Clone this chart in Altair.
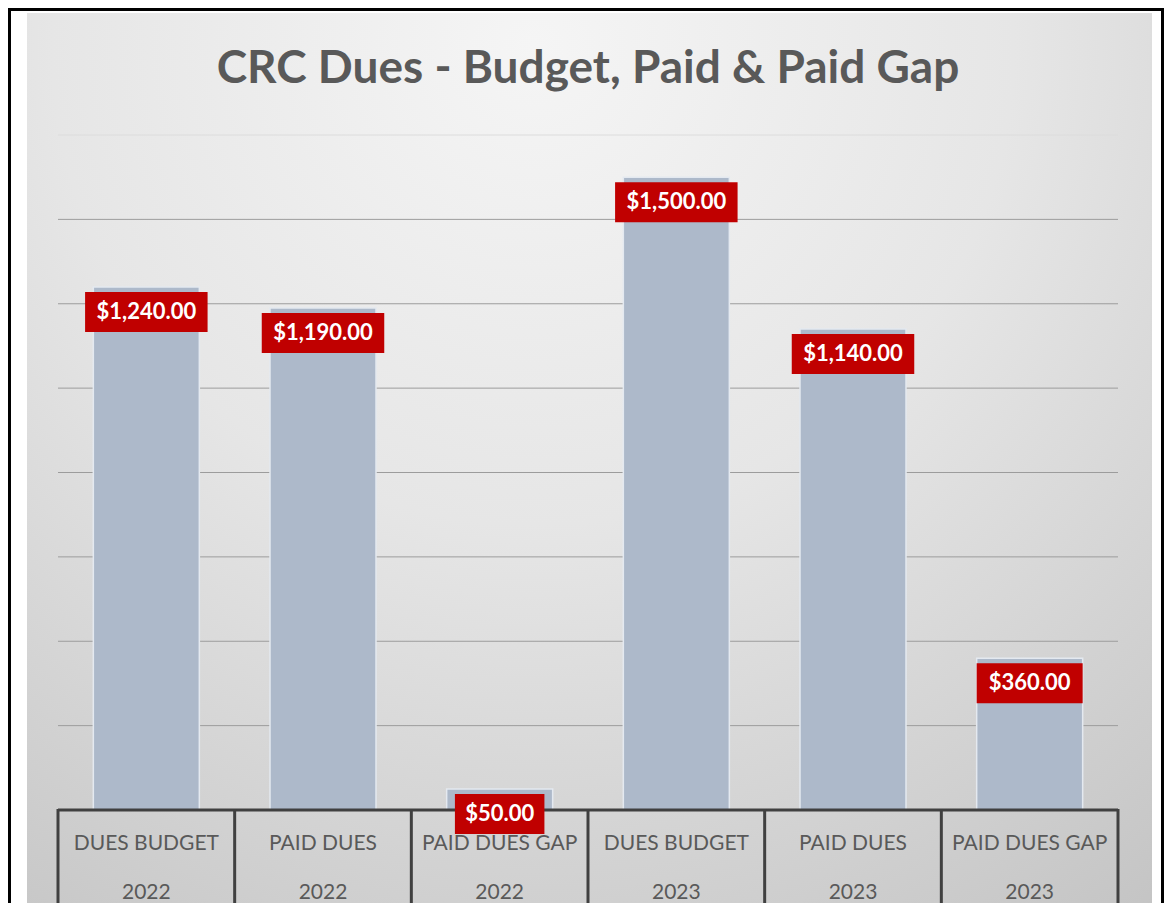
import altair as alt
import pandas as pd

# ---- data ----
categories = ["DUES BUDGET", "PAID DUES", "PAID DUES GAP", "DUES BUDGET", "PAID DUES", "PAID DUES GAP"]
years = ["2022", "2022", "2022", "2023", "2023", "2023"]
values = [1240, 1190, 50, 1500, 1140, 360]
grid_values = [200, 400, 600, 800, 1000, 1200, 1400, 1600]
title_text = "CRC Dues - Budget, Paid & Paid Gap"

df = pd.DataFrame({"category": categories, "year": years, "value": values})
df["key"] = [f"{c}|{y}" for c, y in zip(categories, years)]
order = list(df["key"])

W, H = 1060, 675
FONT = "Lato"

xscale = alt.Scale(domain=order, paddingInner=0, paddingOuter=0)
yscale = alt.Scale(domain=[0, 1600])

base = alt.Chart(df)
X = alt.X("key:N", scale=xscale, axis=None, sort=order)
Y = alt.Y("value:Q", scale=yscale, axis=None)

one = pd.DataFrame({"t": [title_text]})

# background panel with gradient
bg = alt.Chart(one).mark_rect(
    fill={
        "gradient": "radial",
        "x1": 0.45, "y1": 0.12, "r1": 0.0,
        "x2": 0.45, "y2": 0.12, "r2": 0.95,
        "stops": [
            {"offset": 0.0, "color": "#f5f5f5"},
            {"offset": 0.45, "color": "#e6e6e6"},
            {"offset": 1.0, "color": "#c4c4c4"},
        ],
    }
).encode(x=alt.value(-31), x2=alt.value(1094), y=alt.value(-122), y2=alt.value(H + 120))

border = alt.Chart(one).mark_rect(
    fillOpacity=0, stroke="#000000", strokeWidth=3
).encode(x=alt.value(-48.5), x2=alt.value(1104.5), y=alt.value(-125.5), y2=alt.value(H + 130))

title = alt.Chart(one).mark_text(
    font=FONT, fontSize=46, fontWeight="bold", color="#595959",
    align="center", baseline="alphabetic",
).encode(x=alt.value(W / 2), y=alt.value(-52), text="t:N")

grid = alt.Chart(pd.DataFrame({"g": grid_values})).mark_rule(
    strokeWidth=1
).encode(
    y=alt.Y("g:Q", scale=yscale, axis=None),
    color=alt.condition(alt.datum.g == 1600, alt.value("#dcdcdc"), alt.value("#9c9c9c")),
)

bars = base.mark_bar(
    width=alt.RelativeBandSize(0.6), color="#ADB9CA", stroke="#e4e9f0", strokeWidth=1.5
).encode(x=X, y=Y)

domain = alt.Chart(pd.DataFrame({"z": [0]})).mark_rule(
    color="#404040", strokeWidth=3
).encode(y=alt.Y("z:Q", scale=yscale, axis=None))

sep = base.mark_rule(color="#404040", strokeWidth=3).encode(
    x=alt.X("key:N", scale=xscale, axis=None, sort=order, bandPosition=0),
    y=alt.value(H - 1),
    y2=alt.value(H + 100),
)
sep_last = base.transform_filter(alt.datum.key == order[-1]).mark_rule(
    color="#404040", strokeWidth=3
).encode(
    x=alt.X("key:N", scale=xscale, axis=None, sort=order, bandPosition=1),
    y=alt.value(H - 1),
    y2=alt.value(H + 100),
)

cat_text = base.mark_text(
    font=FONT, fontSize=21, color="#595959", baseline="middle"
).encode(x=X, y=alt.value(H + 34), text="category:N")
year_text = base.mark_text(
    font=FONT, fontSize=21, color="#595959", baseline="middle"
).encode(x=X, y=alt.value(H + 83), text="year:N")

lab = base.transform_calculate(
    label="'$' + format(datum.value, ',.2f')"
).transform_calculate(
    boxw="16.5 * length(replace(datum.label, regexp('[,.]', 'g'), '')) + 7"
)

boxes = lab.mark_tick(color="#C00000", thickness=40, yOffset=25, opacity=1).encode(
    x=X, y=Y, size=alt.Size("boxw:Q", scale=None, legend=None)
)
texts = lab.mark_text(
    font=FONT, fontSize=22, fontWeight="bold", color="#ffffff", baseline="middle", dy=25
).encode(x=X, y=Y, text="label:N")

chart = alt.layer(
    bg, border, title, grid, bars, domain, sep, sep_last, cat_text, year_text, boxes, texts
).properties(
    width=W,
    height=H,
    autosize=alt.AutoSizeParams(type="none"),
    padding={"left": 50, "top": 127, "right": 46, "bottom": 93},
    background="#ffffff",
).configure_view(stroke=None)

chart.save("out.html", embed_options={"renderer": "svg", "actions": False})
